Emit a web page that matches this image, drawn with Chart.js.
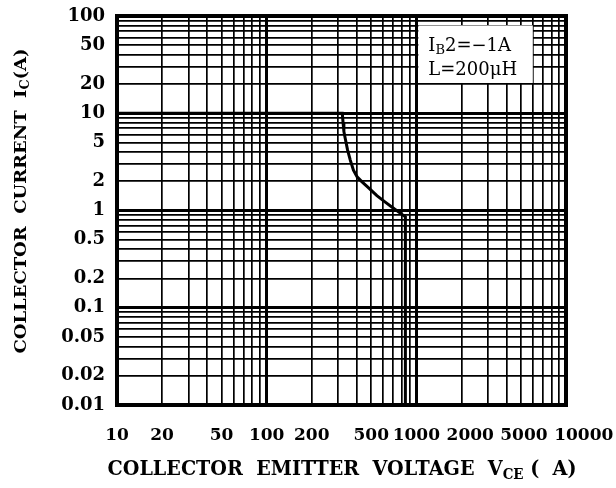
<!DOCTYPE html>
<html>
<head>
<meta charset="utf-8">
<script src="https://cdn.jsdelivr.net/npm/chart.js@4.4.0/dist/chart.umd.min.js"></script>
<style>
  html, body { margin: 0; background: #fff; }
  #wrap { width: 616px; height: 488px; }
</style>
</head>
<body>
<div id="wrap"><canvas id="soa"></canvas></div>
<script>
// tick labels shown on the axes
const xLabels = [10, 20, 50, 100, 200, 500, 1000, 2000, 5000, 10000];
const yLabels = [0.01, 0.02, 0.05, 0.1, 0.2, 0.5, 1, 2, 5, 10, 20, 50, 100];

// reverse bias SOA curve
const vce = [10, 320, 324, 328, 335, 347, 362, 380, 402, 432, 482, 545, 620, 700, 780, 845, 845];
const ic  = [10, 10, 8, 6.5, 5.5, 4.2, 3.3, 2.6, 2.22, 1.98, 1.7, 1.42, 1.22, 1.06, 0.94, 0.86, 0.01];

const SERIF = "'DejaVu Serif', 'Liberation Serif', serif";

// 1..9 x every decade between min and max
function logTicks(min, max) {
    const out = [];
    for (let d = min; d < max * 0.999; d *= 10) {
        for (let m = 1; m <= 9; m++) out.push(Number((m * d).toPrecision(6)));
    }
    out.push(max);
    return out;
}
const isDecade = v => Math.abs(Math.log10(v) - Math.round(Math.log10(v))) < 1e-6;
const hasLabel = (list, v) => list.some(l => Math.abs(l - v) / l < 1e-6);

// the scan prints the big x labels a bit to the right of their lines
const xLabel = v => {
    if (!hasLabel(xLabels, v)) return '';
    if (v >= 10000) return '      ' + v;
    if (v >= 5000) return ' ' + v;
    if (v >= 2000) return '   ' + v;
    return String(v);
};

// text with subscripts: runs = [[text, isSub], ...]
function drawRuns(ctx, runs, size, weight, targetW) {
    const big = `${weight} ${size}px ${SERIF}`;
    const small = `${weight} ${Math.round(size * 0.72)}px ${SERIF}`;
    let w = 0;
    runs.forEach(r => { ctx.font = r[1] ? small : big; w += ctx.measureText(r[0]).width; });
    const sx = targetW ? targetW / w : 1;
    ctx.save();
    ctx.scale(sx, 1);
    let x = -w / 2;
    runs.forEach(r => {
        ctx.font = r[1] ? small : big;
        ctx.fillText(r[0], x, r[1] ? size * 0.2 : 0);
        x += ctx.measureText(r[0]).width;
    });
    ctx.restore();
}

const decor = {
    id: 'decor',
    beforeDatasetsDraw(chart) {
        const { ctx, scales: { x, y } } = chart;
        // legend box over the grid
        const l = x.getPixelForValue(1000) + 2, r = x.getPixelForValue(6000);
        const t = y.getPixelForValue(80), b = y.getPixelForValue(20) - 1;
        ctx.save();
        ctx.fillStyle = '#fff';
        ctx.fillRect(l, t, r - l, b - t);
        ctx.fillStyle = '#000';
        ctx.textBaseline = 'alphabetic';
        ctx.textAlign = 'left';
        ctx.translate(l + 10, t + 26);
        const f = 18;
        ctx.font = `${f}px ${SERIF}`;
        ctx.fillText('I', 0, 0);
        let w = ctx.measureText('I').width;
        ctx.font = `${Math.round(f * 0.72)}px ${SERIF}`;
        ctx.fillText('B', w, 3);
        w += ctx.measureText('B').width;
        ctx.font = `${f}px ${SERIF}`;
        ctx.fillText('2=\u22121A', w, 0);
        ctx.fillText('L=200\u03bcH', 0, 24);
        ctx.restore();
    },
    afterDraw(chart) {
        const { ctx, chartArea: a } = chart;
        ctx.save();
        ctx.strokeStyle = '#000';
        ctx.lineWidth = 4;
        ctx.strokeRect(a.left, a.top, a.right - a.left, a.bottom - a.top);
        ctx.fillStyle = '#000';
        ctx.textBaseline = 'alphabetic';
        // x axis title
        ctx.save();
        ctx.translate(342, 475);
        drawRuns(ctx, [['COLLECTOR  EMITTER  VOLTAGE  V', 0], ['CE', 1], [' (  A)', 0]], 20, 'bold', 469);
        ctx.restore();
        // y axis title
        ctx.save();
        ctx.translate(26, 201);
        ctx.rotate(-Math.PI / 2);
        drawRuns(ctx, [['COLLECTOR  CURRENT  I', 0], ['C', 1], ['(A)', 0]], 17, 'bold', 305);
        ctx.restore();
        ctx.restore();
    }
};

const gridWidth = c => (c.tick && isDecade(c.tick.value) ? 3 : 1.7);

new Chart(document.getElementById('soa'), {
    type: 'line',
    data: {
        datasets: [{
            data: vce.map((v, i) => ({ x: v, y: ic[i] })),
            borderColor: '#000',
            borderWidth: 3,
            pointRadius: 0,
            tension: 0,
            fill: false
        }]
    },
    options: {
        responsive: true,
        maintainAspectRatio: false,
        animation: false,
        layout: { padding: { left: 0, top: 16, right: 50, bottom: 0 } },
        plugins: { legend: { display: false }, tooltip: { enabled: false } },
        scales: {
            x: {
                type: 'logarithmic',
                min: 10,
                max: 10000,
                afterBuildTicks: s => { s.ticks = logTicks(10, 10000).map(v => ({ value: v })); },
                afterFit: s => { s.height = 83; s.paddingLeft = 0; s.paddingRight = 0; },
                border: { display: false },
                grid: { color: '#000', lineWidth: gridWidth, drawTicks: false },
                ticks: {
                    autoSkip: false,
                    maxRotation: 0,
                    padding: 20,
                    color: '#000',
                    font: { family: SERIF, size: 17, weight: 'bold' },
                    callback: xLabel
                }
            },
            y: {
                type: 'logarithmic',
                min: 0.01,
                max: 100,
                afterBuildTicks: s => { s.ticks = logTicks(0.01, 100).map(v => ({ value: v })); },
                afterFit: s => { s.width = 117; s.paddingTop = 0; s.paddingBottom = 0; },
                border: { display: false },
                grid: { color: '#000', lineWidth: gridWidth, drawTicks: false },
                ticks: {
                    autoSkip: false,
                    padding: 12,
                    color: '#000',
                    font: { family: SERIF, size: 18, weight: 'bold' },
                    callback: v => (hasLabel(yLabels, v) ? String(v) : '')
                }
            }
        }
    },
    plugins: [decor]
});
</script>
</body>
</html>
